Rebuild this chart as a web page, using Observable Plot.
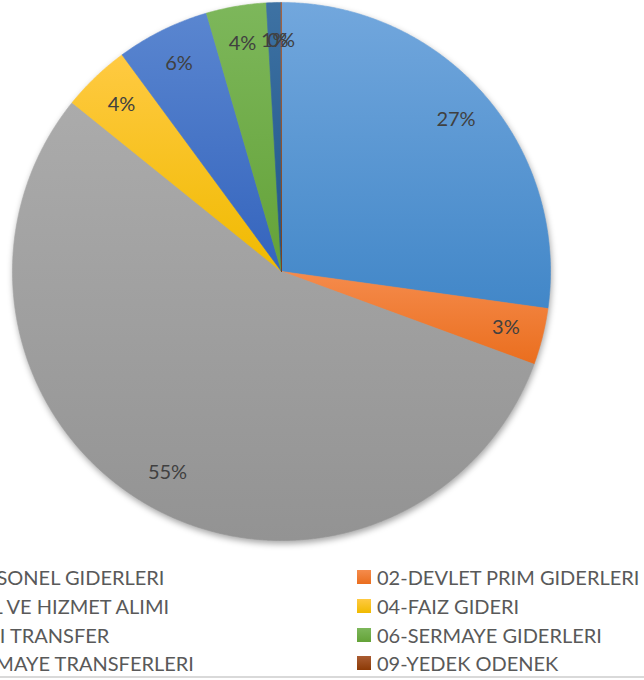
<!DOCTYPE html>
<html>
<head>
<meta charset="utf-8">
<script src="https://cdn.jsdelivr.net/npm/d3@7"></script>
<script src="https://cdn.jsdelivr.net/npm/@observablehq/plot@0.6"></script>
<style>
  html, body { margin: 0; padding: 0; background: #fff; overflow: hidden; }
  #wrap { position: relative; width: 644px; height: 680px; overflow: hidden; }
  #legend { position: absolute; left: 0; top: 560px; width: 644px; height: 120px; font-family: Lato, "Open Sans", sans-serif; font-size: 20px; color: #595959; }
  .lb { position: absolute; white-space: nowrap; line-height: 24px; }
  .sw { position: absolute; width: 14px; height: 14px; }
  #bottomline { position: absolute; left: 0; top: 676px; width: 644px; height: 2px; background: #d9d9d9; }
</style>
</head>
<body>
<div id="wrap">
  <div id="chart"></div>
  <div id="legend"></div>
  <div id="bottomline"></div>
</div>
<script>
// ---- data ----
const categories = [
  "01-PERSONEL GIDERLERI",
  "02-DEVLET PRIM GIDERLERI",
  "03-MAL VE HIZMET ALIMI",
  "04-FAIZ GIDERI",
  "05-CARI TRANSFER",
  "06-SERMAYE GIDERLERI",
  "07-SERMAYE TRANSFERLERI",
  "09-YEDEK ODENEK"
];
const shares = [27.2, 3.4, 55.2, 4.1, 5.6, 3.6, 0.87, 0.03];
const labels = ["27%", "3%", "55%", "4%", "6%", "4%", "1%", "0%"];
const colorsTop = ["#72A7DD", "#F58B4C", "#ABABAB", "#FFCA42", "#5A86D0", "#7DB75B", "#3E72A3", "#AA5C32"];
const colorsBottom = ["#4287C8", "#EA6E1E", "#939393", "#F0BA00", "#3464BD", "#64A238", "#1E5489", "#8C3A06"];

// ---- derived geometry (from data) ----
const pieData = d3.pie().sort(null).value(d => d)(shares);
const polyPoints = [];
categories.forEach((c, i) => {
  const a0 = pieData[i].startAngle, a1 = pieData[i].endAngle;
  const n = Math.max(2, Math.ceil((a1 - a0) / 0.005));
  polyPoints.push({cat: c, x: 0, y: 0});
  for (let k = 0; k <= n; k++) {
    const a = a0 + (a1 - a0) * k / n;
    polyPoints.push({cat: c, x: Math.sin(a), y: Math.cos(a)});
  }
  polyPoints.push({cat: c, x: 0, y: 0});
});
const labelR = 0.86;
const labelData = categories.map((c, i) => {
  const a = (pieData[i].startAngle + pieData[i].endAngle) / 2;
  return {cat: c, label: labels[i], x: labelR * Math.sin(a), y: labelR * Math.cos(a)};
});

const gradIds = categories.map((c, i) => "g" + i);

const plot = Plot.plot({
  width: 644,
  height: 560,
  margin: 0,
  x: {domain: [-1, 1], range: [12, 550], axis: null},
  y: {domain: [-1, 1], range: [540, 2], axis: null},
  color: {type: "ordinal", domain: categories, range: gradIds.map(id => `url(#${id})`)},
  style: {background: "transparent", overflow: "visible"},
  marks: [
    Plot.line(polyPoints, {x: "x", y: "y", z: "cat", fill: "cat", stroke: "cat", strokeWidth: 0.6, curve: "linear"}),
    Plot.text(labelData, {x: "x", y: "y", text: "label", fill: "#404040", fontSize: 20, fontFamily: "Lato, 'Open Sans', sans-serif"})
  ]
});

// gradients
const ns = "http://www.w3.org/2000/svg";
const defs = document.createElementNS(ns, "defs");
gradIds.forEach((id, i) => {
  const g = document.createElementNS(ns, "linearGradient");
  g.setAttribute("id", id);
  g.setAttribute("x1", "0"); g.setAttribute("y1", "0");
  g.setAttribute("x2", "0"); g.setAttribute("y2", "1");
  [[0, colorsTop[i]], [1, colorsBottom[i]]].forEach(([o, col]) => {
    const s = document.createElementNS(ns, "stop");
    s.setAttribute("offset", o);
    s.setAttribute("stop-color", col);
    g.appendChild(s);
  });
  defs.appendChild(g);
});
plot.insertBefore(defs, plot.firstChild);
const lineG = plot.querySelector('g[aria-label="line"]');
if (lineG) lineG.style.filter = "drop-shadow(1px 3px 3px rgba(0,0,0,0.35))";
document.getElementById("chart").appendChild(plot);

// legend
const legend = document.getElementById("legend");
const ctx = document.createElement("canvas").getContext("2d");
ctx.font = "20px Lato";
const firstW = ctx.measureText(categories[0]).width;
const leftText = 165 - firstW;
const colText = [leftText, 377];
const rowY = [17, 46, 75, 103];
categories.forEach((c, i) => {
  const col = i % 2, row = Math.floor(i / 2);
  const sw = document.createElement("div");
  sw.className = "sw";
  sw.style.left = (colText[col] - 20) + "px";
  sw.style.top = (rowY[row] - 7) + "px";
  sw.style.background = `linear-gradient(${colorsTop[i]}, ${colorsBottom[i]})`;
  legend.appendChild(sw);
  const lb = document.createElement("div");
  lb.className = "lb";
  lb.style.left = colText[col] + "px";
  lb.style.top = (rowY[row] - 12) + "px";
  lb.textContent = c;
  legend.appendChild(lb);
});
</script>
</body>
</html>
